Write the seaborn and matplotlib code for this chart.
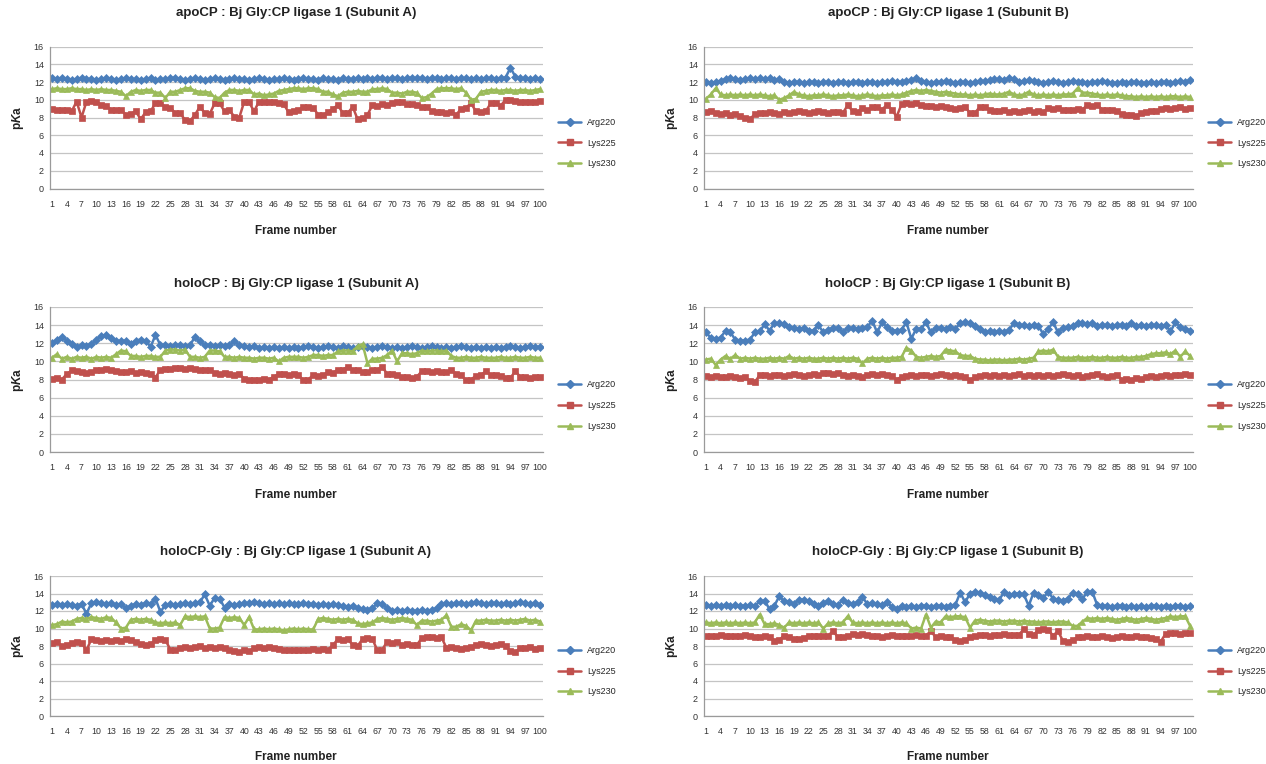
import numpy as np
import pandas as pd
import matplotlib
matplotlib.use('Agg')
import matplotlib.pyplot as plt
from matplotlib.lines import Line2D
import seaborn as sns

frames = list(range(1, 101))
series_names = ['Arg220', 'Lys225', 'Lys230']
xtick_labels = [str(v) for v in range(1, 101, 3)]
ytick_values = [0, 2, 4, 6, 8, 10, 12, 14, 16]

titles = [
    'apoCP : Bj Gly:CP ligase 1 (Subunit A)',
    'apoCP : Bj Gly:CP ligase 1 (Subunit B)',
    'holoCP : Bj Gly:CP ligase 1 (Subunit A)',
    'holoCP : Bj Gly:CP ligase 1 (Subunit B)',
    'holoCP-Gly : Bj Gly:CP ligase 1 (Subunit A)',
    'holoCP-Gly : Bj Gly:CP ligase 1 (Subunit B)',
]

# ---- apoCP subunit A ----
apoA_arg220 = [12.4,12.3,12.4,12.3,12.2,12.3,12.4,12.3,12.3,12.2,
               12.3,12.4,12.3,12.2,12.3,12.4,12.3,12.3,12.2,12.3,
               12.4,12.2,12.3,12.3,12.4,12.5,12.3,12.2,12.3,12.4,
               12.3,12.2,12.3,12.4,12.3,12.2,12.3,12.4,12.3,12.3,
               12.2,12.3,12.4,12.3,12.2,12.3,12.3,12.4,12.3,12.2,
               12.3,12.4,12.3,12.3,12.2,12.4,12.3,12.3,12.2,12.4,
               12.3,12.3,12.4,12.3,12.4,12.3,12.5,12.4,12.3,12.4,
               12.4,12.3,12.4,12.5,12.4,12.4,12.3,12.4,12.4,12.3,
               12.4,12.4,12.3,12.4,12.4,12.3,12.4,12.3,12.4,12.4,
               12.3,12.4,12.5,13.6,12.6,12.4,12.4,12.3,12.4,12.3]
apoA_lys225 = [9.0,8.9,8.9,8.8,8.7,9.8,8.0,9.8,9.9,9.8,
               9.4,9.3,8.9,8.8,8.9,8.3,8.4,8.7,7.8,8.6,
               8.7,9.6,9.6,9.2,9.1,8.5,8.5,7.7,7.6,8.3,
               9.2,8.5,8.4,9.6,9.6,8.7,8.8,8.1,8.0,9.8,
               9.7,8.7,9.8,9.8,9.7,9.8,9.6,9.5,8.6,8.7,
               8.8,9.2,9.2,9.1,8.3,8.3,8.6,9.0,9.4,8.5,
               8.5,9.2,7.8,7.9,8.3,9.4,9.3,9.5,9.4,9.6,
               9.7,9.7,9.5,9.5,9.4,9.2,9.2,8.7,8.6,8.6,
               8.5,8.6,8.3,9.0,9.1,9.6,8.7,8.6,8.7,9.6,
               9.6,9.3,10.0,10.0,9.9,9.8,9.8,9.7,9.8,9.9]
apoA_lys230 = [11.2,11.3,11.2,11.2,11.3,11.2,11.2,11.1,11.2,11.1,
               11.2,11.1,11.1,11.0,10.9,10.4,10.9,11.1,11.0,11.1,
               11.1,10.8,10.8,10.2,10.9,10.9,11.1,11.3,11.3,11.0,
               10.9,10.9,10.8,10.3,10.2,10.8,11.1,11.1,11.0,11.1,
               11.1,10.6,10.7,10.5,10.6,10.7,11.0,11.1,11.2,11.3,
               11.3,11.2,11.3,11.3,11.2,10.9,10.9,10.6,10.4,10.8,
               10.9,10.9,11.0,10.9,10.9,11.2,11.2,11.3,11.2,10.8,
               10.8,10.7,10.9,10.9,10.8,10.2,10.3,10.7,11.2,11.3,
               11.3,11.3,11.2,11.3,10.8,10.0,10.1,10.9,11.0,11.1,
               11.1,11.0,11.1,11.1,11.0,11.1,11.1,11.0,11.1,11.2]

# ---- apoCP subunit B ----
apoB_arg220 = [12.0,11.9,12.0,12.1,12.3,12.4,12.3,12.2,12.3,12.4,
               12.3,12.4,12.3,12.4,12.2,12.3,12.0,11.9,12.0,12.0,
               11.9,12.0,12.0,11.9,12.0,12.0,11.9,12.0,12.0,11.9,
               12.0,12.0,11.9,12.0,12.0,11.9,12.0,12.0,12.1,12.0,
               12.0,12.1,12.2,12.4,12.1,12.0,11.9,12.0,12.0,12.1,
               12.0,11.9,12.0,12.0,11.9,12.0,12.1,12.1,12.2,12.3,
               12.3,12.2,12.4,12.3,12.0,12.1,12.2,12.1,12.0,11.9,
               12.0,12.1,12.0,11.9,12.0,12.1,12.0,12.0,11.9,12.0,
               12.0,12.1,12.0,11.9,11.9,12.0,11.9,12.0,12.0,11.9,
               11.9,12.0,11.9,12.0,12.0,11.9,12.0,12.1,12.0,12.2]
apoB_lys225 = [8.6,8.7,8.5,8.4,8.5,8.3,8.4,8.2,7.9,7.8,
               8.4,8.5,8.5,8.6,8.5,8.4,8.6,8.5,8.6,8.7,
               8.6,8.5,8.6,8.7,8.6,8.5,8.6,8.6,8.5,9.4,
               8.7,8.6,9.1,8.8,9.2,9.2,8.9,9.4,8.9,8.1,
               9.5,9.6,9.5,9.6,9.4,9.3,9.3,9.2,9.3,9.2,
               9.1,9.0,9.1,9.2,8.5,8.5,9.2,9.2,8.8,8.7,
               8.7,8.8,8.6,8.7,8.6,8.7,8.8,8.6,8.7,8.6,
               9.1,9.0,9.1,8.9,8.8,8.9,9.0,8.9,9.4,9.3,
               9.4,8.9,8.8,8.9,8.7,8.4,8.3,8.3,8.2,8.5,
               8.6,8.7,8.7,9.0,9.1,9.0,9.1,9.2,9.0,9.1]
apoB_lys230 = [10.1,10.6,11.3,10.6,10.5,10.6,10.5,10.6,10.5,10.6,
               10.5,10.6,10.5,10.4,10.5,10.0,10.2,10.5,10.9,10.6,
               10.5,10.4,10.5,10.5,10.6,10.5,10.4,10.5,10.5,10.6,
               10.5,10.4,10.5,10.6,10.5,10.4,10.5,10.5,10.6,10.5,
               10.6,10.8,11.0,11.1,11.0,11.1,11.0,10.9,10.8,10.9,
               10.8,10.7,10.6,10.6,10.5,10.6,10.5,10.6,10.7,10.6,
               10.6,10.7,10.9,10.6,10.5,10.6,10.9,10.6,10.5,10.6,
               10.5,10.6,10.5,10.6,10.6,10.7,11.3,10.8,10.8,10.7,
               10.6,10.5,10.6,10.5,10.6,10.5,10.4,10.4,10.3,10.4,
               10.3,10.4,10.3,10.4,10.3,10.4,10.4,10.3,10.4,10.3]

# ---- holoCP subunit A ----
holoA_arg220 = [12.0,12.4,12.7,12.3,11.9,11.6,11.8,11.7,11.9,12.4,
                12.8,12.9,12.6,12.3,12.2,12.3,11.9,12.3,12.4,12.3,
                11.6,12.9,11.8,11.8,11.7,11.8,11.8,11.7,11.8,12.7,
                12.2,11.8,11.8,11.7,11.8,11.7,11.8,12.2,11.8,11.7,
                11.6,11.7,11.5,11.6,11.5,11.6,11.5,11.6,11.5,11.6,
                11.5,11.6,11.7,11.6,11.5,11.6,11.7,11.6,11.5,11.7,
                11.6,11.5,11.6,11.7,11.6,11.5,11.6,11.7,11.6,11.5,
                11.6,11.5,11.6,11.7,11.6,11.5,11.6,11.7,11.6,11.5,
                11.6,11.5,11.6,11.7,11.6,11.5,11.6,11.5,11.6,11.5,
                11.6,11.5,11.6,11.7,11.6,11.5,11.6,11.7,11.6,11.6]
holoA_lys225 = [8.1,8.2,8.0,8.6,9.0,8.9,8.8,8.7,8.8,9.0,
                9.1,9.2,9.1,8.9,8.8,8.8,8.9,8.7,8.8,8.7,
                8.6,8.2,9.1,9.2,9.2,9.3,9.3,9.2,9.3,9.2,
                9.0,9.1,9.0,8.7,8.6,8.7,8.6,8.5,8.6,8.1,
                8.0,7.9,8.0,8.1,8.0,8.3,8.6,8.6,8.5,8.6,
                8.5,7.9,8.0,8.5,8.4,8.5,8.8,8.7,9.1,9.1,
                9.4,9.1,9.0,8.8,8.8,9.1,9.1,9.4,8.6,8.6,
                8.5,8.3,8.3,8.2,8.3,8.9,8.9,8.8,8.9,8.8,
                8.8,9.1,8.6,8.5,7.9,8.0,8.4,8.5,8.9,8.5,
                8.5,8.4,8.2,8.2,8.9,8.3,8.3,8.2,8.3,8.3]
holoA_lys230 = [10.4,10.8,10.3,10.5,10.3,10.5,10.4,10.5,10.3,10.5,
                10.4,10.5,10.4,10.8,11.2,11.1,10.6,10.6,10.5,10.6,
                10.6,10.5,10.5,11.2,11.3,11.3,11.2,11.3,10.5,10.5,
                10.4,10.5,11.2,11.2,11.1,10.5,10.5,10.4,10.5,10.4,
                10.4,10.3,10.4,10.4,10.3,10.4,10.0,10.4,10.5,10.5,
                10.5,10.4,10.5,10.7,10.7,10.6,10.7,10.7,11.1,11.2,
                11.2,11.1,11.7,11.9,9.8,10.3,10.3,10.4,10.7,11.2,
                10.0,10.9,10.9,10.8,10.9,11.2,11.1,11.2,11.2,11.1,
                11.2,10.6,10.4,10.4,10.5,10.4,10.4,10.5,10.4,10.4,
                10.4,10.5,10.4,10.4,10.5,10.4,10.4,10.5,10.4,10.4]

# ---- holoCP subunit B ----
holoB_arg220 = [13.2,12.6,12.5,12.6,13.4,13.2,12.4,12.3,12.3,12.4,
                13.2,13.3,14.1,13.4,14.2,14.2,14.1,13.8,13.7,13.6,
                13.7,13.4,13.4,14.0,13.2,13.5,13.7,13.7,13.2,13.7,
                13.7,13.6,13.7,13.8,14.5,13.2,14.3,13.8,13.4,13.4,
                13.5,14.3,12.5,13.6,13.6,14.3,13.2,13.7,13.7,13.6,
                13.8,13.6,14.2,14.3,14.2,13.9,13.6,13.2,13.3,13.2,
                13.3,13.2,13.5,14.2,14.0,14.0,13.9,14.0,13.9,13.0,
                13.6,14.3,13.2,13.7,13.8,13.9,14.2,14.2,14.1,14.2,
                13.9,14.0,14.0,13.9,14.0,14.0,13.9,14.2,13.9,14.0,
                13.9,14.0,14.0,13.9,14.0,13.3,14.3,13.8,13.6,13.4]
holoB_lys225 = [8.4,8.3,8.4,8.3,8.3,8.4,8.3,8.2,8.3,7.8,
                7.7,8.5,8.5,8.4,8.5,8.5,8.4,8.5,8.6,8.5,
                8.4,8.5,8.6,8.5,8.7,8.7,8.6,8.7,8.5,8.4,
                8.5,8.4,8.3,8.5,8.6,8.5,8.6,8.5,8.4,8.0,
                8.3,8.4,8.5,8.4,8.5,8.5,8.4,8.5,8.6,8.5,
                8.4,8.5,8.4,8.3,7.9,8.3,8.4,8.5,8.4,8.5,
                8.4,8.5,8.4,8.5,8.6,8.4,8.5,8.4,8.5,8.4,
                8.5,8.4,8.5,8.6,8.5,8.4,8.5,8.3,8.4,8.5,
                8.6,8.4,8.3,8.4,8.5,8.0,8.1,8.0,8.2,8.1,
                8.3,8.4,8.3,8.4,8.5,8.4,8.5,8.5,8.6,8.5]
holoB_lys230 = [10.2,10.3,9.6,10.2,10.6,10.3,10.7,10.3,10.4,10.3,
                10.4,10.3,10.3,10.4,10.3,10.4,10.3,10.6,10.3,10.4,
                10.3,10.4,10.3,10.3,10.4,10.3,10.4,10.3,10.4,10.3,
                10.4,10.3,9.8,10.3,10.4,10.3,10.4,10.3,10.4,10.4,
                10.5,11.5,11.2,10.5,10.4,10.5,10.6,10.5,10.6,11.3,
                11.2,11.1,10.7,10.6,10.6,10.3,10.2,10.2,10.1,10.2,
                10.2,10.1,10.2,10.2,10.3,10.2,10.3,10.4,11.1,11.2,
                11.1,11.3,10.5,10.4,10.4,10.4,10.5,10.4,10.4,10.5,
                10.4,10.4,10.5,10.4,10.4,10.5,10.4,10.4,10.5,10.5,
                10.6,10.8,10.9,10.9,11.0,10.8,11.2,10.5,11.1,10.6]

# ---- holoCP-Gly subunit A ----
glyA_arg220 = [12.7,12.8,12.7,12.8,12.7,12.6,12.8,11.7,12.9,13.0,
               12.9,12.8,12.9,12.7,12.8,12.3,12.6,12.8,12.7,12.9,
               12.8,13.4,11.9,12.7,12.8,12.7,12.8,12.9,12.8,12.9,
               13.0,13.9,12.6,13.5,13.4,12.4,12.8,12.7,12.8,12.9,
               12.9,13.0,12.9,12.8,12.9,12.8,12.9,12.8,12.9,12.8,
               12.8,12.9,12.8,12.8,12.7,12.8,12.7,12.8,12.7,12.6,
               12.5,12.6,12.3,12.2,12.1,12.3,12.9,12.8,12.3,12.0,
               12.1,12.0,12.1,12.0,12.0,12.1,12.0,12.1,12.3,12.8,
               12.9,12.8,12.9,12.9,12.8,12.9,13.0,12.9,12.8,12.9,
               12.9,12.8,12.9,12.8,12.9,13.0,12.9,12.8,12.9,12.7]
glyA_lys225 = [8.4,8.5,8.0,8.1,8.4,8.5,8.4,7.5,8.8,8.7,
               8.6,8.7,8.6,8.7,8.6,8.8,8.7,8.5,8.2,8.1,
               8.2,8.7,8.8,8.7,7.6,7.5,7.8,7.9,7.8,7.9,
               8.0,7.8,7.9,7.8,7.9,7.8,7.6,7.4,7.3,7.5,
               7.4,7.8,7.9,7.8,7.9,7.8,7.7,7.5,7.6,7.5,
               7.6,7.5,7.6,7.7,7.6,7.7,7.6,8.1,8.8,8.7,
               8.8,8.1,8.0,8.8,8.9,8.8,7.5,7.6,8.5,8.4,
               8.5,8.1,8.2,8.1,8.1,8.9,9.0,9.0,8.9,9.0,
               7.8,7.9,7.8,7.7,7.8,7.9,8.1,8.2,8.1,8.0,
               8.1,8.2,8.0,7.4,7.3,7.8,7.8,7.9,7.7,7.8]
glyA_lys230 = [10.4,10.5,10.8,10.7,10.8,11.1,11.2,11.1,11.3,11.2,
               11.1,11.3,11.2,10.7,10.0,10.1,11.0,11.1,11.0,11.1,
               11.0,10.7,10.6,10.7,10.6,10.7,10.4,11.4,11.3,11.4,
               11.3,11.4,10.0,10.0,10.1,11.3,11.2,11.3,11.2,10.4,
               11.3,9.9,9.9,10.0,9.9,10.0,9.9,9.8,9.9,10.0,
               9.9,10.0,9.9,9.9,11.1,11.2,11.1,11.0,11.1,11.0,
               11.1,11.0,10.6,10.5,10.6,10.7,11.1,11.2,11.1,11.0,
               11.1,11.2,11.1,11.0,10.4,10.9,10.9,10.8,10.9,11.0,
               11.5,10.2,10.2,10.5,10.3,9.8,10.9,10.9,11.0,10.9,
               10.9,11.0,10.9,11.0,10.9,11.0,11.1,10.9,11.0,10.8]

# ---- holoCP-Gly subunit B ----
glyB_arg220 = [12.7,12.6,12.7,12.6,12.7,12.6,12.7,12.6,12.6,12.7,
               12.6,13.1,13.2,12.2,12.6,13.7,13.1,13.0,12.8,13.3,
               13.3,13.2,12.8,12.6,12.9,13.2,12.8,12.7,13.3,12.9,
               12.8,13.0,13.6,12.8,12.9,12.8,12.7,13.0,12.5,12.2,
               12.6,12.5,12.6,12.5,12.6,12.6,12.5,12.6,12.6,12.5,
               12.6,12.7,14.1,13.0,14.0,14.2,14.1,13.8,13.6,13.4,
               13.3,14.2,13.8,14.0,14.0,13.9,12.6,14.1,13.8,13.5,
               14.2,13.4,13.3,13.2,13.4,14.1,13.9,13.4,14.2,14.2,
               12.7,12.6,12.6,12.5,12.6,12.6,12.5,12.6,12.5,12.6,
               12.5,12.6,12.6,12.5,12.6,12.5,12.6,12.6,12.5,12.6]
glyB_lys225 = [9.2,9.1,9.2,9.3,9.2,9.1,9.2,9.2,9.3,9.2,
               9.0,9.0,9.1,9.0,8.6,8.7,9.2,9.0,8.8,8.8,
               8.9,9.2,9.1,9.2,9.1,9.2,9.7,9.0,9.0,9.1,
               9.4,9.3,9.4,9.3,9.2,9.1,9.0,9.2,9.3,9.2,
               9.2,9.1,9.2,9.3,9.2,9.2,9.7,9.0,9.1,9.0,
               9.0,8.7,8.6,8.7,9.0,9.1,9.3,9.3,9.2,9.3,
               9.3,9.4,9.3,9.3,9.3,9.9,9.4,9.3,9.8,9.9,
               9.8,9.2,9.7,8.6,8.5,8.7,9.0,9.0,9.1,9.0,
               9.0,9.1,9.0,8.9,9.0,9.1,9.0,9.0,9.1,9.0,
               9.0,8.9,8.8,8.5,9.4,9.5,9.5,9.4,9.5,9.5]
glyB_lys230 = [10.7,10.6,10.7,10.6,10.7,10.6,10.7,10.6,10.7,10.6,
               10.7,11.6,10.5,10.5,10.6,10.4,10.1,10.7,10.6,10.7,
               10.6,10.7,10.6,10.7,10.0,10.6,10.7,10.6,10.7,11.4,
               10.7,10.6,10.7,10.6,10.7,10.6,10.7,10.6,10.7,10.6,
               10.7,10.6,10.0,10.1,10.0,11.6,10.1,10.8,10.7,11.4,
               11.3,11.4,11.4,11.3,10.1,10.9,11.0,10.9,10.8,10.9,
               10.9,10.8,10.9,10.9,10.8,10.9,10.8,10.8,10.7,10.8,
               10.8,10.7,10.8,10.8,10.7,10.3,10.3,10.8,11.2,11.1,
               11.2,11.1,11.2,11.1,11.0,11.1,11.2,11.1,11.0,11.1,
               11.2,11.1,11.0,11.1,11.2,11.4,11.3,11.4,11.4,10.3]

panel_data = [
    (apoA_arg220, apoA_lys225, apoA_lys230),
    (apoB_arg220, apoB_lys225, apoB_lys230),
    (holoA_arg220, holoA_lys225, holoA_lys230),
    (holoB_arg220, holoB_lys225, holoB_lys230),
    (glyA_arg220, glyA_lys225, glyA_lys230),
    (glyB_arg220, glyB_lys225, glyB_lys230),
]

# ---- styling ----
sns.set_theme(style='white')
plt.rcParams['font.family'] = ['Liberation Sans', 'DejaVu Sans']
plt.rcParams['mathtext.fontset'] = 'custom'
plt.rcParams['mathtext.bf'] = 'Liberation Sans:bold:italic'

palette = {'Arg220': '#4A7EBB', 'Lys225': '#C0504D', 'Lys230': '#9BBB59'}
markers = {'Arg220': 'D', 'Lys225': 's', 'Lys230': '^'}
msizes = {'Arg220': 4.0, 'Lys225': 4.8, 'Lys230': 5.0}

W, H = 1266, 764
fig = plt.figure(figsize=(W / 100, H / 100), dpi=100)

col_x = [(49.5, 542.5), (703.5, 1192.5)]
row_y = [(46.5, 188.5), (307, 452), (576, 716)]
title_y = [13, 284, 552]

for i, (vals, title) in enumerate(zip(panel_data, titles)):
    r, c = divmod(i, 2)
    x0, x1 = col_x[c]
    yt, yb = row_y[r]
    ax = fig.add_axes([x0 / W, 1 - yb / H, (x1 - x0) / W, (yb - yt) / H])
    df = pd.DataFrame({
        'Frame': frames * 3,
        'pKa': list(vals[0]) + list(vals[1]) + list(vals[2]),
        'Series': np.repeat(series_names, len(frames)),
    })
    for name in series_names:
        sub = df[df['Series'] == name]
        sns.lineplot(data=sub, x='Frame', y='pKa', color=palette[name],
                     marker=markers[name], markersize=msizes[name],
                     markeredgewidth=0.5, markeredgecolor=palette[name],
                     linewidth=1.8, ax=ax, legend=False)
    ax.set_xlim(0.5, 100.5)
    ax.set_ylim(0, 16)
    ax.set_yticks(ytick_values)
    ax.set_yticklabels([str(v) for v in ytick_values], fontsize=6.5, color='#333333')
    ax.set_xticks(list(range(1, 101, 3)))
    ax.set_xticklabels(xtick_labels, fontsize=6.3, color='#333333')
    ax.set_xticks(np.arange(0.5, 101, 1), minor=True)
    ax.tick_params(axis='x', which='major', length=0, pad=8)
    ax.tick_params(axis='x', which='minor', length=3, color='#9a9a9a', width=0.6, direction='out')
    ax.tick_params(axis='y', which='major', length=0, pad=4)
    ax.grid(axis='y', color='#c4c4c4', linewidth=0.9)
    ax.grid(axis='x', visible=False)
    for s in ['top', 'right']:
        ax.spines[s].set_visible(False)
    for s in ['left', 'bottom']:
        ax.spines[s].set_color('#9a9a9a')
        ax.spines[s].set_linewidth(0.9)
    ax.set_xlabel('')
    ax.set_ylabel('')
    ax.text(0.5, -(230 - 188) / 142, 'Frame number', transform=ax.transAxes,
            ha='center', va='center', fontsize=8.5, fontweight='bold', color='#222222')
    ax.text(-31 / (x1 - x0), 0.5, r'p$\mathbf{K}$a', transform=ax.transAxes,
            ha='center', va='center', rotation=90, fontsize=8.5, fontweight='bold', color='#222222')
    fig.text((x0 + x1) / 2 / W, 1 - title_y[r] / H, title, ha='center', va='center',
             fontsize=9.5, fontweight='bold', color='#222222')
    handles = [Line2D([0], [0], color=palette[n], marker=markers[n], markersize=msizes[n],
                      linewidth=1.8) for n in series_names]
    ax.legend(handles, series_names, loc='center left', bbox_to_anchor=(1.015, 0.32),
              frameon=False, fontsize=6.5, handlelength=2.6, labelspacing=1.3,
              handletextpad=0.6)

fig.savefig('out.png', dpi=100)
